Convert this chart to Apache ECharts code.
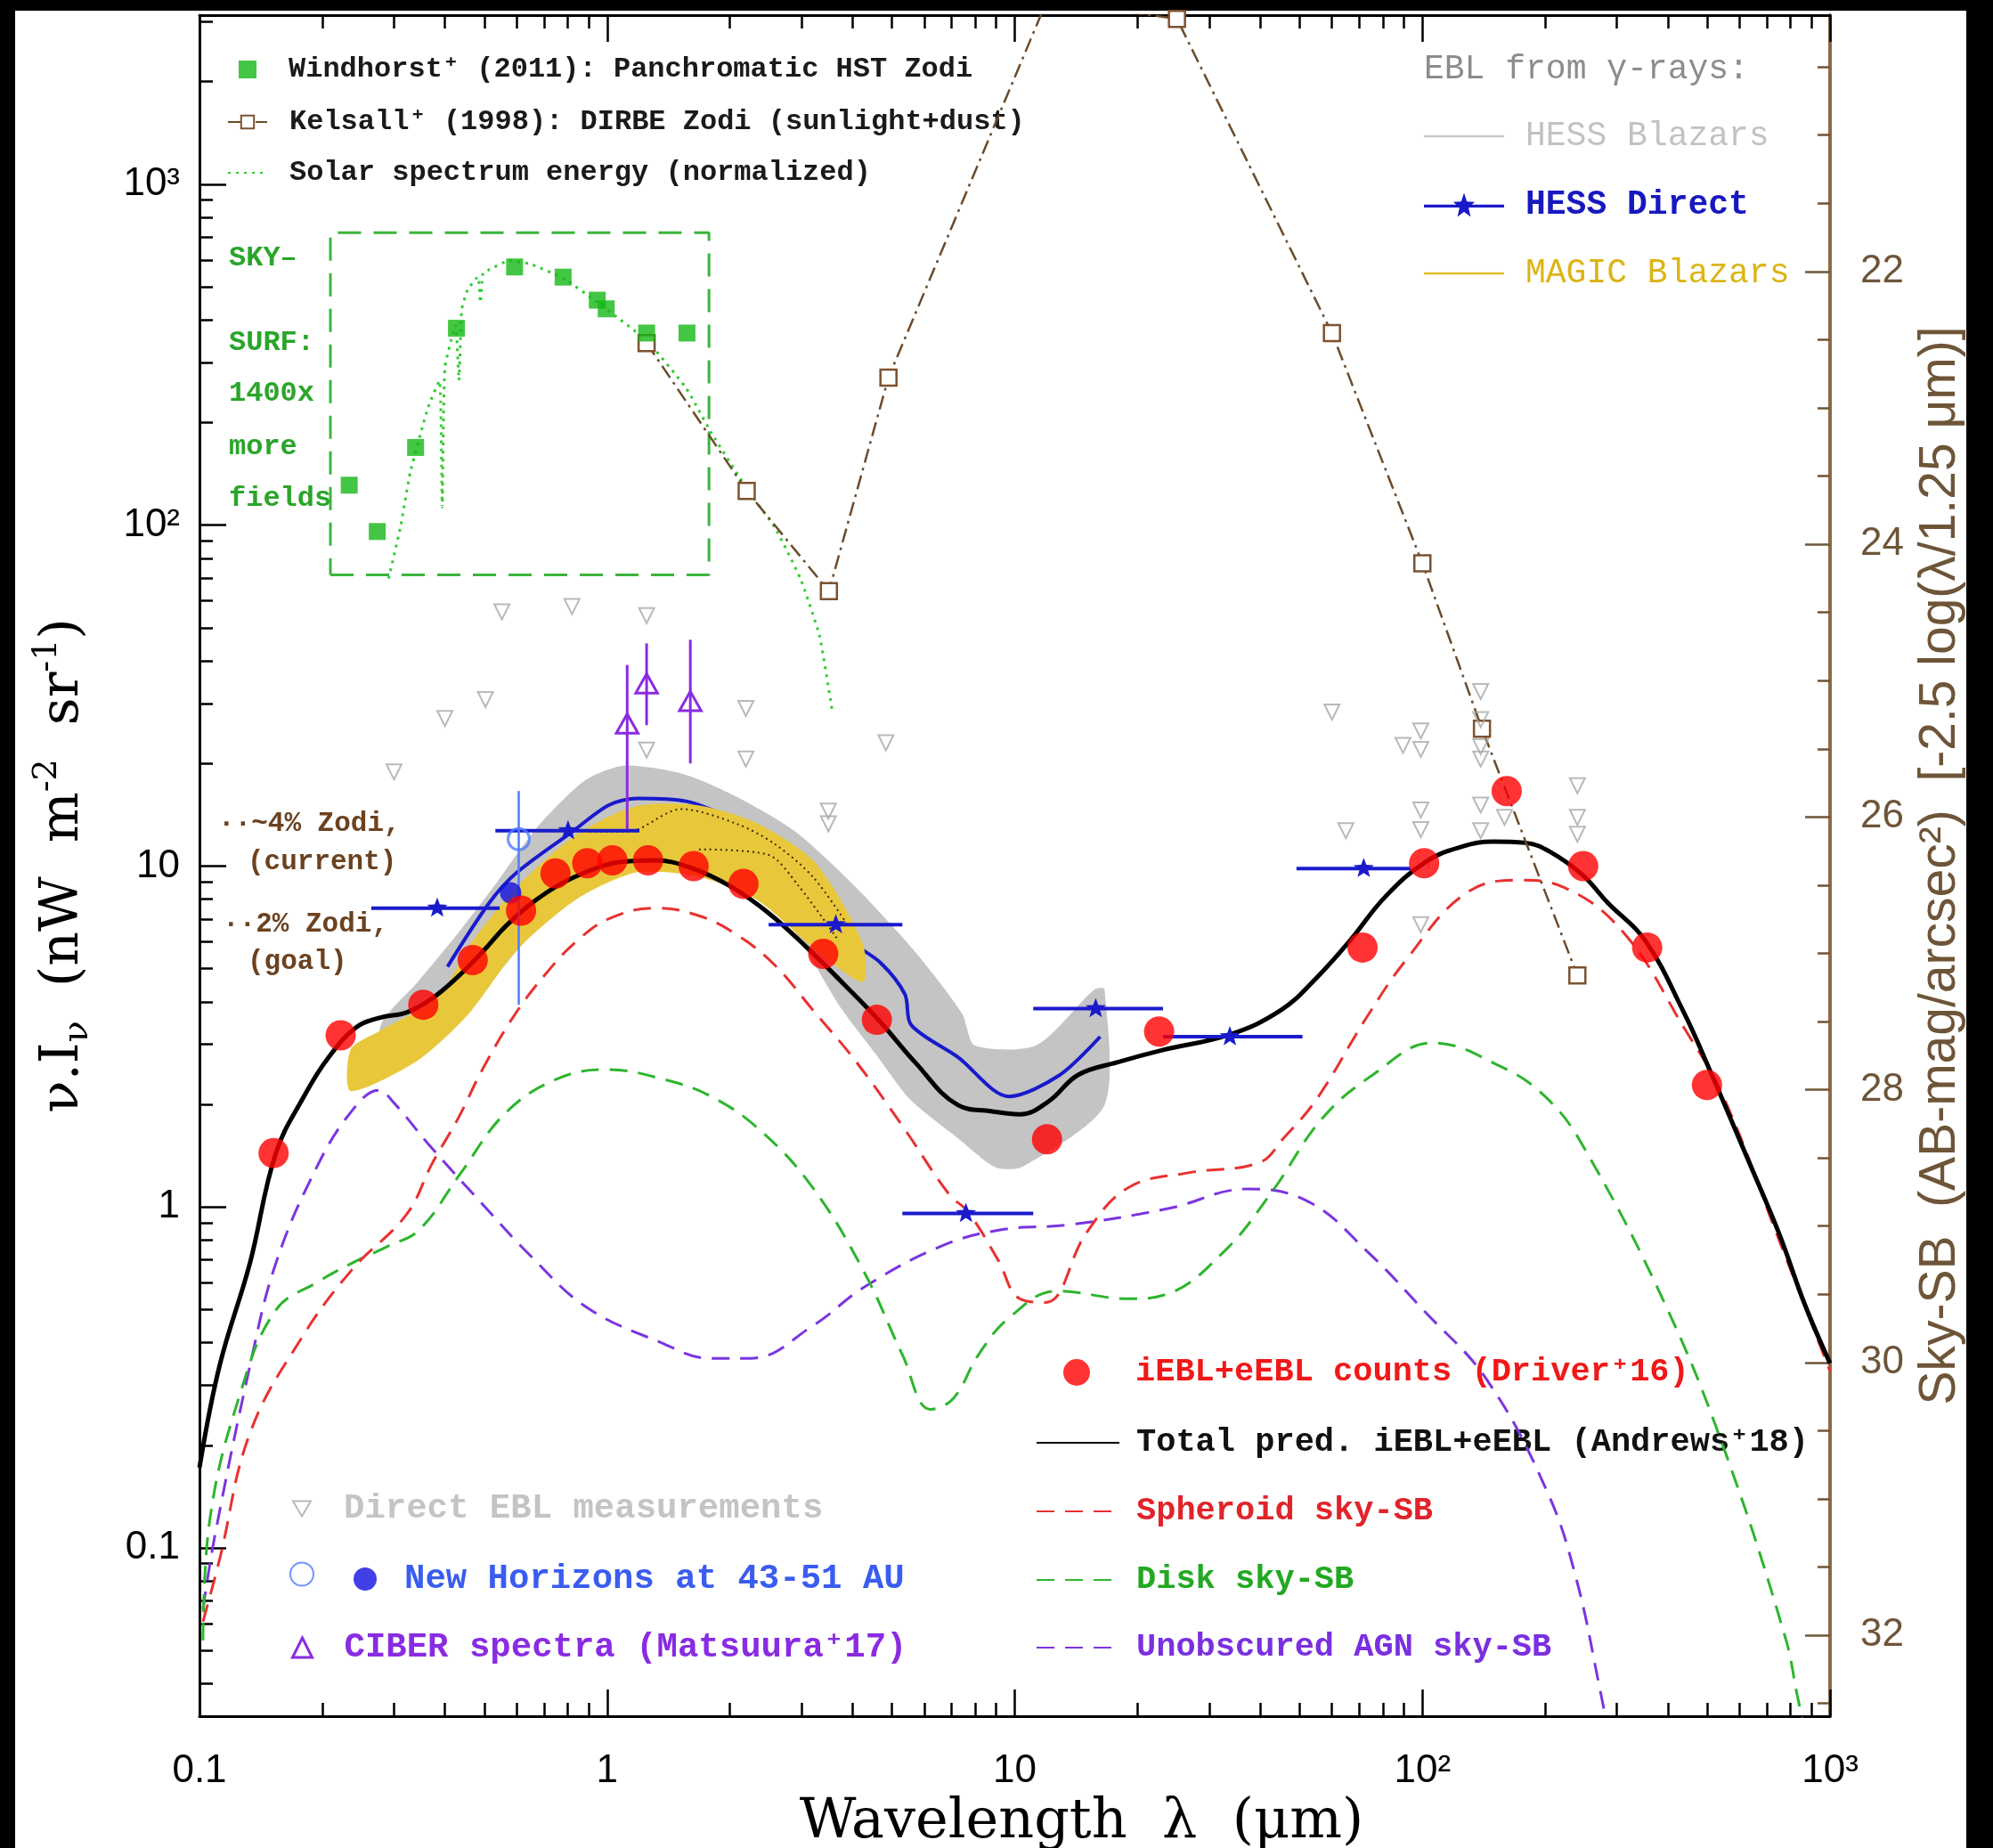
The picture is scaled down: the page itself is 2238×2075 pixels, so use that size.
<!DOCTYPE html>
<html>
<head>
<meta charset="utf-8">
<script src="https://cdn.jsdelivr.net/npm/echarts@6/dist/echarts.min.js"></script>
<style>
  html, body { margin:0; padding:0; background:#000; }
  #paper { position:absolute; left:17px; top:12px; width:2191px; height:2063px; background:#fff; }
  #chart { position:absolute; left:0; top:0; width:2238px; height:2075px; }
</style>
</head>
<body>
<div id="paper"></div>
<div id="chart"></div>
<script>
'use strict';

// ---- axes / ticks ----
var xMajor = [0.1, 1, 10, 100, 1000];
var xMinor = [0.2,0.3,0.4,0.5,0.6,0.7,0.8,0.9, 2,3,4,5,6,7,8,9, 20,30,40,50,60,70,80,90, 200,300,400,500,600,700,800,900];
var yMajor = [0.1, 1, 10, 100, 1000];
var yMinor = [0.04,0.05,0.06,0.07,0.08,0.09, 0.2,0.3,0.4,0.5,0.6,0.7,0.8,0.9, 2,3,4,5,6,7,8,9, 20,30,40,50,60,70,80,90, 200,300,400,500,600,700,800,900, 2000,3000];
var magMajor = [22, 24, 26, 28, 30, 32];
var magMinor = [20.5,21,21.5, 22.5,23,23.5, 24.5,25,25.5, 26.5,27,27.5, 28.5,29,29.5, 30.5,31,31.5, 32.5];

var Y_MIN = 0.0321, Y_MAX = 3133;
var MAG0 = 28.86;   // AB mag/arcsec^2 at nuI = 1 nW m^-2 sr^-1

// ---- data: [wavelength um, nuI nW m^-2 sr^-1] ----
var driverCounts = [[0.152,1.44],[0.222,3.19],[0.354,3.92],[0.468,5.30],[0.615,7.40],[0.747,9.51],[0.894,10.2],[1.03,10.4],[1.26,10.4],[1.63,10.0],[2.16,8.87],[3.39,5.53],[4.59,3.54],[12.0,1.58],[22.6,3.27],[71.3,5.77],[101,10.2],[161,16.6],[248,10.0],[356,5.77],[499,2.28]];

var totalPred = [[0.100,0.172],[0.112,0.342],[0.133,0.685],[0.154,1.44],[0.182,2.15],[0.207,2.74],[0.242,3.36],[0.279,3.60],[0.322,3.72],[0.372,4.09],[0.430,4.73],[0.496,5.62],[0.573,6.79],[0.710,8.36],[0.881,9.57],[1.09,10.3],[1.31,10.4],[1.62,9.84],[2.01,8.71],[2.49,7.28],[3.09,5.77],[3.84,4.46],[4.66,3.51],[5.69,2.66],[7.26,1.99],[8.75,1.91],[10.3,1.87],[12.1,2.04],[14.3,2.44],[17.9,2.66],[22.9,2.88],[33.8,3.21],[45.0,3.78],[54.6,4.66],[66.3,6.03],[81.1,8.13],[102,10.3],[125,11.4],[149,11.8],[179,11.7],[206,11.0],[247,9.42],[285,7.80],[351,6.08],[438,3.72],[505,2.55],[627,1.39],[750,0.836],[866,0.520],[1000,0.348]];

var spheroid = [[0.102,0.0608],[0.112,0.0925],[0.133,0.217],[0.178,0.413],[0.237,0.656],[0.322,0.951],[0.372,1.34],[0.430,1.81],[0.496,2.55],[0.593,3.66],[0.710,4.86],[0.843,6.03],[1.016,7.03],[1.316,7.53],[1.68,7.15],[2.08,6.29],[2.58,5.12],[3.21,3.76],[4.06,2.69],[5.30,1.73],[6.90,1.09],[7.69,0.966],[9.08,0.703],[10.3,0.538],[11.9,0.525],[15.0,0.841],[19.0,1.14],[26.6,1.26],[39.8,1.35],[45.6,1.59],[55.0,2.07],[73.3,3.63],[91.6,5.34],[127,8.28],[171,9.10],[223,8.65],[313,6.34],[438,3.36],[547,2.11],[750,0.80],[1000,0.33]];

var disk = [[0.102,0.0535],[0.106,0.121],[0.126,0.285],[0.154,0.499],[0.195,0.603],[0.237,0.685],[0.289,0.766],[0.346,0.857],[0.436,1.25],[0.564,1.89],[0.757,2.38],[1.00,2.53],[1.355,2.38],[1.80,2.11],[2.40,1.66],[3.21,1.13],[4.27,0.645],[5.30,0.369],[6.21,0.255],[7.06,0.274],[8.15,0.369],[9.68,0.473],[12.7,0.567],[19.0,0.538],[23.4,0.553],[32.6,0.740],[42.8,1.11],[56.6,1.81],[75.5,2.44],[106,3.03],[155,2.59],[200,2.11],[247,1.52],[396,0.512],[555,0.189],[778,0.0543],[830,0.0372],[867,0.0292]];

var agn = [[0.102,0.0662],[0.109,0.108],[0.133,0.342],[0.154,0.685],[0.194,1.31],[0.237,1.92],[0.275,2.20],[0.300,2.02],[0.366,1.52],[0.489,1.035],[0.652,0.715],[0.893,0.507],[1.345,0.402],[1.79,0.360],[2.25,0.360],[3.21,0.450],[4.27,0.582],[6.57,0.766],[9.21,0.857],[13.6,0.887],[23.9,0.991],[37.3,1.13],[52.7,1.035],[73.3,0.740],[100.5,0.499],[144,0.311],[202,0.147],[238,0.082],[273,0.0382],[285,0.0292]];

var hessCurve = [[0.406,5.07],[0.514,7.80],[0.601,9.58],[0.820,12.6],[1.01,15.1],[1.19,15.8],[1.56,15.5],[2.08,13.6],[2.58,11.8],[3.21,8.49],[3.81,6.24],[4.69,5.20],[5.38,4.20],[5.57,3.42],[7.26,2.75],[9.68,2.11],[12.9,2.44],[16.2,3.16]];

// [lambda, nuI, lambda_lo, lambda_hi]
var hessDirect = [[0.383,7.53,0.264,0.545],[0.802,12.7,0.532,1.20],[3.64,6.73,2.49,5.30],[7.59,0.957,5.30,11.1],[15.8,3.82,11.1,23.1],[33.7,3.16,23.1,50.8],[71.8,9.84,49.1,93.6]];

var hessBlazarUpper = [[0.279,3.44],[0.343,4.57],[0.430,6.34],[0.533,8.87],[0.670,12.9],[0.881,17.8],[1.10,19.7],[1.54,18.6],[2.07,16.0],[2.90,12.6],[4.06,8.71],[5.65,5.67],[7.43,3.69],[7.98,2.98],[11.3,2.98],[15.7,4.35],[16.6,4.35]];
var hessBlazarLower = [[0.279,2.5],[0.372,3.0],[0.496,4.3],[0.661,6.4],[0.881,8.4],[1.17,9.7],[1.56,9.6],[2.08,8.6],[2.78,6.8],[3.70,3.92],[4.59,2.78],[5.53,2.07],[7.26,1.59],[8.95,1.31],[10.4,1.31],[16.6,1.99]];

var magicUpper = [[0.235,2.90],[0.279,3.30],[0.385,4.13],[0.458,5.82],[0.601,8.71],[0.843,12.4],[1.18,15.0],[1.66,15.1],[2.32,13.4],[3.25,10.2],[4.24,5.92]];
var magicLower = [[0.235,2.19],[0.343,2.69],[0.458,3.69],[0.601,5.67],[0.843,8.00],[1.18,9.58],[1.66,9.33],[2.32,8.00],[3.25,5.67],[4.24,4.57]];

var zodi4 = [[0.906,12.6],[1.12,12.6],[1.52,14.7],[2.08,13.3],[2.58,11.6],[3.21,9.25],[3.92,6.62]];
var zodi2 = [[1.68,11.2],[2.48,10.8],[2.94,8.79],[3.70,6.03]];

var windhorst = [[0.233,131],[0.273,95.8],[0.339,169],[0.427,378],[0.593,572],[0.780,534],[0.946,457],[0.995,431],[1.25,366],[1.57,366]];
var kelsall = [[1.25,342],[2.2,126],[3.5,64.0],[4.9,271],[12,3460],[25,3055],[60,366],[100,77.3],[140,25.3],[240,4.78]];
var solar = [[0.291,69.7],[0.311,98.3],[0.329,143],[0.364,222],[0.388,265],[0.394,113],[0.400,290],[0.425,385],[0.433,266],[0.440,430],[0.455,490],[0.482,535],[0.489,450],[0.496,548],[0.514,562],[0.577,597],[0.652,582],[0.791,525],[0.946,450],[1.25,348],[1.56,253],[1.80,187],[2.21,127],[2.58,98.3],[2.98,69.7],[3.32,47.3],[3.57,28.3]];
var insetBox = [[0.2095,71.5],[1.778,71.5],[1.778,721],[0.2095,721],[0.2095,71.5]];

var directEbl = [[0.300,18.9],[0.400,27.1],[0.503,30.8],[0.552,55.7],[0.820,57.7],[1.25,54.3],[1.25,21.9],[2.19,29.0],[2.19,20.6],[3.49,14.5],[3.49,13.3],[4.83,23.0],[60.0,28.3],[64.9,12.7],[89.6,22.6],[99.1,24.9],[99.1,22.0],[99.1,14.6],[99.1,12.8],[99.1,6.73],[139,32.5],[139,26.9],[139,22.4],[139,20.6],[139,15.1],[139,12.7],[159,13.9],[240,17.2],[240,13.9],[240,12.4]];

// [lambda, nuI, lo, hi] (vertical bars)
var ciber = [[1.12,25.7,12.8,38.9],[1.25,33.7,25.9,45.0],[1.60,29.9,20.0,46.1]];
var nhOpen = [[0.607,12.0]];
var nhOpenBar = [[0.607,12.0,3.92,16.6]];
var nhFilled = [[0.580,8.35]];

// ---- helpers ----
function magOf(v) { return MAG0 - 2.5 * Math.log10(v); }

function powLabel(v) {
  var e = Math.round(Math.log10(v));
  if (e < 0) return '0.1';
  if (e === 0) return '1';
  if (e === 1) return '10';
  return '10' + (e === 2 ? '\u00b2' : '\u00b3');
}

function starPts(cx, cy, R, r) {
  var pts = [];
  for (var k = 0; k < 10; k++) {
    var a = -Math.PI / 2 + k * Math.PI / 5;
    var rad = (k % 2) ? r : R;
    pts.push([cx + rad * Math.cos(a), cy + rad * Math.sin(a)]);
  }
  return pts;
}

function bandItem(upper, lower, fill) {
  return function (params, api) {
    if (params.dataIndex !== 0) return;
    var pts = [];
    upper.forEach(function (p) { pts.push(api.coord(p)); });
    lower.slice().reverse().forEach(function (p) { pts.push(api.coord(p)); });
    return { type: 'polygon', shape: { points: pts, smooth: 0.25 }, style: { fill: fill } };
  };
}

function hessRender(params, api) {
  var y = api.value(1);
  var c = api.coord([api.value(0), y]);
  var a = api.coord([api.value(2), y]);
  var b = api.coord([api.value(3), y]);
  var col = '#1a1acc';
  return { type: 'group', children: [
    { type: 'line', shape: { x1: a[0], y1: a[1], x2: b[0], y2: b[1] }, style: { stroke: col, lineWidth: 4 } },
    { type: 'polygon', shape: { points: starPts(c[0], c[1], 12, 5) }, style: { fill: col } }
  ] };
}

function ciberRender(params, api) {
  var x = api.value(0);
  var c = api.coord([x, api.value(1)]);
  var lo = api.coord([x, api.value(2)]);
  var hi = api.coord([x, api.value(3)]);
  var col = '#8a2be2', R = 14;
  return { type: 'group', children: [
    { type: 'line', shape: { x1: lo[0], y1: lo[1], x2: hi[0], y2: hi[1] }, style: { stroke: col, lineWidth: 3 } },
    { type: 'polygon', shape: { points: [[c[0], c[1] - R], [c[0] + R * 0.87, c[1] + R * 0.55], [c[0] - R * 0.87, c[1] + R * 0.55]] },
      style: { fill: 'none', stroke: col, lineWidth: 3 } }
  ] };
}

function vbarRender(col) {
  return function (params, api) {
    var x = api.value(0);
    var lo = api.coord([x, api.value(2)]);
    var hi = api.coord([x, api.value(3)]);
    return { type: 'line', shape: { x1: lo[0], y1: lo[1], x2: hi[0], y2: hi[1] }, style: { stroke: col, lineWidth: 2.5 } };
  };
}

var MONO = '"Liberation Mono", "DejaVu Sans Mono", monospace';

function legendItem(name, iconLeft, cy, iw, ih, textX, color, size, extra) {
  extra = extra || {};
  var lh = size;
  var lg = {
    data: [Object.assign({ name: name }, extra.item || {})],
    left: iconLeft,
    top: cy - Math.max(ih, lh) / 2,
    orient: 'vertical',
    padding: 0,
    itemWidth: iw,
    itemHeight: ih,
    selectedMode: false,
    symbolKeepAspect: extra.keep !== false,
    textStyle: {
      color: color, fontSize: size, fontFamily: MONO, fontWeight: extra.weight || 'bold',
      lineHeight: lh, padding: [0, 0, 0, textX - (iconLeft + iw + 5)]
    }
  };
  if (extra.itemStyle) lg.itemStyle = extra.itemStyle;
  if (extra.formatter !== undefined) lg.formatter = extra.formatter;
  return lg;
}

var STAR_ICON = 'path://M0,13.5L100,13.5L100,16.5L0,16.5Z M50,1L53.53,10.15L63.31,10.67L55.71,16.85L58.23,26.33L50,21L41.77,26.33L44.29,16.85L36.69,10.67L46.47,10.15Z';
var LINE_ICON = 'path://M0,0M100,30M0,13.5L100,13.5L100,16.5L0,16.5Z';
var DOWN_TRI = 'path://M0,0L20,0L10,17Z';

var KELSALL = 'Kelsall\u207a (1998): DIRBE Zodi (sunlight+dust)';
var WINDHORST = 'Windhorst\u207a (2011): Panchromatic HST Zodi';
var SOLAR = 'Solar spectrum energy (normalized)';
var DRIVER = 'iEBL+eEBL counts (Driver\u207a16)';
var TOTAL = 'Total pred. iEBL+eEBL (Andrews\u207a18)';
var CIBER = 'CIBER spectra (Matsuura\u207a17)';

var legends = [
  legendItem(WINDHORST, 268, 78, 20, 20, 324, '#1a1a1a', 32, { item: { icon: 'rect' } }),
  legendItem(KELSALL, 255, 137, 44, 18, 324, '#1a1a1a', 32),
  legendItem(SOLAR, 255, 194, 44, 18, 324, '#1a1a1a', 32, { itemStyle: { opacity: 0 } }),

  legendItem('HESS Blazars', 1599, 153, 90, 27, 1713, '#c2c2c2', 38, { item: { icon: LINE_ICON }, keep: false, weight: 'normal' }),
  legendItem('HESS Direct', 1599, 230, 90, 27, 1713, '#1818c0', 38, { item: { icon: STAR_ICON }, keep: false, weight: 'bold' }),
  legendItem('MAGIC Blazars', 1599, 307, 90, 27, 1713, '#dcb414', 38, { item: { icon: LINE_ICON }, keep: false, weight: 'normal' }),

  legendItem(DRIVER, 1194, 1541, 30, 30, 1275, '#f01818', 37),
  legendItem(TOTAL, 1163, 1620, 93, 20, 1275, '#111111', 37, { itemStyle: { opacity: 0 } }),
  legendItem('Spheroid sky-SB', 1163, 1697, 93, 20, 1275, '#e0242a', 37, { itemStyle: { opacity: 0 } }),
  legendItem('Disk sky-SB', 1163, 1774, 93, 20, 1275, '#22a822', 37, { itemStyle: { opacity: 0 } }),
  legendItem('Unobscured AGN sky-SB', 1163, 1850, 93, 20, 1275, '#7a2fe0', 37, { itemStyle: { opacity: 0 } }),

  legendItem('Direct EBL measurements', 328, 1694, 20, 17, 385, '#c4c4c4', 39, { item: { icon: DOWN_TRI } }),
  legendItem('NH open', 325, 1773, 26, 26, 360, '#3a5cf0', 39, { formatter: function () { return ''; } }),
  legendItem('New Horizons at 43-51 AU', 397, 1773, 26, 26, 454, '#3a5cf0', 39),
  legendItem(CIBER, 327, 1850, 22, 22, 385, '#8a2be2', 39,
    { item: { icon: 'triangle', itemStyle: { color: 'rgba(255,255,255,0)', borderColor: '#8a2be2', borderWidth: 3 } } })
];

function logX(position, ticks, len, labels) {
  return {
    type: 'log', min: 0.1, max: 1000, position: position,
    axisLine: { show: labels, onZero: false, lineStyle: { color: '#000', width: 3 } },
    axisTick: { show: true, inside: true, length: len, customValues: ticks, lineStyle: { color: '#000', width: 2.5 } },
    axisLabel: labels ? { show: true, customValues: xMajor, formatter: powLabel, margin: 40, fontSize: 44, color: '#000', fontFamily: 'Liberation Sans' } : { show: false },
    splitLine: { show: false }, minorTick: { show: false }
  };
}

var option = {
  animation: false,
  backgroundColor: 'transparent',
  grid: { left: 224, top: 17, width: 1831, height: 1910, containLabel: false, outerBoundsMode: 'none' },
  xAxis: [
    Object.assign(logX('bottom', xMajor, 30, true), {
      name: 'Wavelength  \u03bb  (\u03bcm)', nameLocation: 'middle', nameGap: 87,
      nameTextStyle: { fontFamily: 'DejaVu Serif', fontSize: 62, color: '#000', padding: [0, 0, 0, 150] }
    }),
    logX('bottom', xMinor, 15, false),
    Object.assign(logX('top', xMajor, 30, false), { axisLine: { show: true, onZero: false, lineStyle: { color: '#000', width: 3 } } }),
    logX('top', xMinor, 15, false)
  ],
  yAxis: [
    {
      type: 'log', min: Y_MIN, max: Y_MAX, position: 'left',
      axisLine: { show: true, onZero: false, lineStyle: { color: '#000', width: 3 } },
      axisTick: { show: true, inside: true, length: 30, customValues: yMajor, lineStyle: { color: '#000', width: 2.5 } },
      axisLabel: { show: true, customValues: yMajor, formatter: powLabel, margin: 22, fontSize: 44, color: '#000', fontFamily: 'Liberation Sans' },
      splitLine: { show: false },
      name: '{a|\u03bd.I}{b|\u03bd}{a|  (nW  m}{c|-2}{a|  sr}{c|-1}{a|)}',
      nameLocation: 'middle', nameRotate: 90, nameGap: 116,
      nameTextStyle: {
        color: '#000',
        rich: {
          a: { fontFamily: 'DejaVu Serif', fontSize: 60, lineHeight: 74, color: '#000' },
          b: { fontFamily: 'DejaVu Serif', fontSize: 40, lineHeight: 40, verticalAlign: 'bottom', color: '#000' },
          c: { fontFamily: 'DejaVu Serif', fontSize: 38, lineHeight: 38, verticalAlign: 'top', color: '#000' }
        }
      }
    },
    {
      type: 'log', min: Y_MIN, max: Y_MAX, position: 'left',
      axisLine: { show: false, onZero: false },
      axisTick: { show: true, inside: true, length: 15, customValues: yMinor, lineStyle: { color: '#000', width: 2.5 } },
      axisLabel: { show: false }, splitLine: { show: false }
    },
    {
      type: 'value', inverse: true, min: magOf(Y_MAX), max: magOf(Y_MIN), position: 'right',
      axisLine: { show: true, onZero: false, lineStyle: { color: '#8c6a48', width: 4 } },
      axisTick: { show: true, inside: true, length: 28, customValues: magMajor, lineStyle: { color: '#6e5538', width: 2.5 } },
      axisLabel: { show: true, customValues: magMajor, margin: 34, fontSize: 44, color: '#6e5538', fontFamily: 'Liberation Sans',
        formatter: function (v) { return String(Math.round(v)); } },
      splitLine: { show: false },
      name: 'Sky-SB  (AB-mag/arcsec\u00b2)  [-2.5 log(\u03bb/1.25 \u03bcm)]',
      nameLocation: 'middle', nameRotate: 90, nameGap: 96,
      nameTextStyle: { fontFamily: 'Liberation Sans', fontSize: 57, color: '#6e5538' }
    },
    {
      type: 'value', inverse: true, min: magOf(Y_MAX), max: magOf(Y_MIN), position: 'right',
      axisLine: { show: false, onZero: false },
      axisTick: { show: true, inside: true, length: 14, customValues: magMinor, lineStyle: { color: '#6e5538', width: 2.5 } },
      axisLabel: { show: false }, splitLine: { show: false }
    }
  ],
  legend: legends,
  graphic: [
    { type: 'text', x: 257, y: 290, style: { text: 'SKY\u2013', fill: '#2aa52a', font: 'bold 32px ' + MONO, verticalAlign: 'middle' } },
    { type: 'text', x: 257, y: 385, style: { text: 'SURF:', fill: '#2aa52a', font: 'bold 32px ' + MONO, verticalAlign: 'middle' } },
    { type: 'text', x: 257, y: 442, style: { text: '1400x', fill: '#2aa52a', font: 'bold 32px ' + MONO, verticalAlign: 'middle' } },
    { type: 'text', x: 257, y: 502, style: { text: 'more', fill: '#2aa52a', font: 'bold 32px ' + MONO, verticalAlign: 'middle' } },
    { type: 'text', x: 257, y: 560, style: { text: 'fields', fill: '#2aa52a', font: 'bold 32px ' + MONO, verticalAlign: 'middle' } },
    { type: 'text', x: 245, y: 925, style: { text: '\u00b7\u00b7~4% Zodi,', fill: '#6b4220', font: 'bold 31px ' + MONO, verticalAlign: 'middle' } },
    { type: 'text', x: 278, y: 968, style: { text: '(current)', fill: '#6b4220', font: 'bold 31px ' + MONO, verticalAlign: 'middle' } },
    { type: 'text', x: 250, y: 1038, style: { text: '\u00b7\u00b72% Zodi,', fill: '#6b4220', font: 'bold 31px ' + MONO, verticalAlign: 'middle' } },
    { type: 'text', x: 278, y: 1080, style: { text: '(goal)', fill: '#6b4220', font: 'bold 31px ' + MONO, verticalAlign: 'middle' } },
    { type: 'text', x: 1599, y: 78, style: { text: 'EBL from \u03b3-rays:', fill: '#8c8c8c', font: '38px ' + MONO, verticalAlign: 'middle' } }
  ],
  series: [
    { name: 'HESS Blazars', type: 'custom', renderItem: bandItem(hessBlazarUpper, hessBlazarLower, '#c4c4c4'),
      data: hessBlazarUpper, itemStyle: { color: '#c8c8c8' }, z: 1, silent: true },
    { name: 'hessCurve', type: 'line', data: hessCurve, smooth: 0.3, symbol: 'none',
      lineStyle: { color: '#1a1acc', width: 4 }, z: 2, silent: true },
    { name: 'MAGIC Blazars', type: 'custom', renderItem: bandItem(magicUpper, magicLower, '#e8c83a'),
      data: magicUpper, itemStyle: { color: '#e2c02a' }, z: 3, silent: true },
    { name: 'zodi4', type: 'line', data: zodi4, smooth: 0.3, symbol: 'none',
      lineStyle: { color: '#3a2a10', width: 2, type: [2, 4] }, z: 4, silent: true },
    { name: 'zodi2', type: 'line', data: zodi2, smooth: 0.3, symbol: 'none',
      lineStyle: { color: '#3a2a10', width: 2, type: [2, 4] }, z: 4, silent: true },
    { name: 'Unobscured AGN sky-SB', type: 'line', data: agn, smooth: 0.4, symbol: 'none',
      lineStyle: { color: '#7a35e0', width: 3, type: [20, 12] }, z: 5 },
    { name: 'Disk sky-SB', type: 'line', data: disk, smooth: 0.4, symbol: 'none',
      lineStyle: { color: '#2db52d', width: 3, type: [20, 12] }, z: 5 },
    { name: 'Spheroid sky-SB', type: 'line', data: spheroid, smooth: 0.4, symbol: 'none',
      lineStyle: { color: '#e8312f', width: 3, type: [20, 12] }, z: 5 },
    { name: TOTAL, type: 'line', data: totalPred, smooth: 0.4, symbol: 'none',
      lineStyle: { color: '#000', width: 5 }, z: 6 },
    { name: SOLAR, type: 'line', data: solar, smooth: 0.15, symbol: 'none',
      lineStyle: { color: '#2fcc2f', width: 3, type: [3, 6] }, z: 6 },
    { name: 'insetBox', type: 'line', data: insetBox, symbol: 'none',
      lineStyle: { color: '#3cb43c', width: 3, type: [26, 14] }, z: 6, silent: true },
    { name: KELSALL, type: 'line', data: kelsall, symbol: 'rect', symbolSize: 18, showAllSymbol: true,
      itemStyle: { color: '#fff', borderColor: '#7d5230', borderWidth: 2.5 },
      lineStyle: { color: '#6b4a2b', width: 2.5, type: [16, 6, 3, 6] }, z: 7 },
    { name: 'Direct EBL measurements', type: 'scatter', data: directEbl, symbol: 'triangle', symbolRotate: 180, symbolSize: 17,
      itemStyle: { color: 'rgba(255,255,255,0)', borderColor: '#a8a8a8', borderWidth: 2 }, z: 7 },
    { name: 'HESS Direct', type: 'custom', renderItem: hessRender, data: hessDirect,
      itemStyle: { color: '#1a1acc' }, encode: { x: 0, y: 1 }, z: 8 },
    { name: CIBER, type: 'custom', renderItem: ciberRender, data: ciber,
      itemStyle: { color: '#8a2be2' }, encode: { x: 0, y: 1 }, z: 8 },
    { name: 'nhBar', type: 'custom', renderItem: vbarRender('#4f7cff'), data: nhOpenBar, encode: { x: 0, y: 1 }, z: 8 },
    { name: 'NH open', type: 'scatter', data: nhOpen, symbol: 'circle', symbolSize: 24,
      itemStyle: { color: 'rgba(255,255,255,0)', borderColor: '#4f7cff', borderWidth: 3 }, z: 9 },
    { name: 'New Horizons at 43-51 AU', type: 'scatter', data: nhFilled, symbol: 'circle', symbolSize: 24,
      itemStyle: { color: '#1010e0' }, z: 9 },
    { name: DRIVER, type: 'scatter', data: driverCounts, symbol: 'circle', symbolSize: 34,
      itemStyle: { color: '#ff0000' }, z: 10 },
    { name: WINDHORST, type: 'scatter', data: windhorst, symbol: 'rect', symbolSize: 19,
      itemStyle: { color: '#14b814' }, z: 10 }
  ]
};

var chart = echarts.init(document.getElementById('chart'), null, { renderer: 'canvas' });
chart.setOption(option);
window.addEventListener('resize', function () { chart.resize(); });
</script>
</body>
</html>
